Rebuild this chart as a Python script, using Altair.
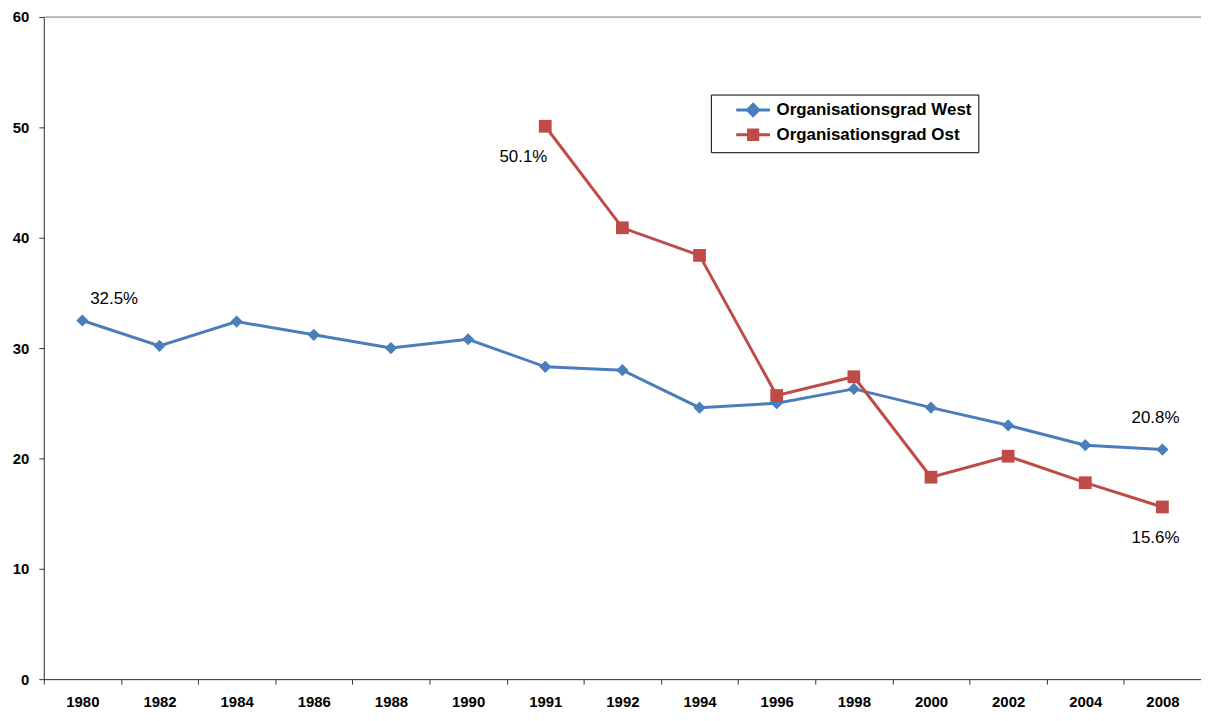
import altair as alt
import pandas as pd

years = ["1980", "1982", "1984", "1986", "1988", "1990", "1991", "1992",
         "1994", "1996", "1998", "2000", "2002", "2004", "2008"]
west = [32.5, 30.2, 32.4, 31.2, 30.0, 30.8, 28.3, 28.0,
        24.6, 25.0, 26.3, 24.6, 23.0, 21.2, 20.8]
ost_years = ["1991", "1992", "1994", "1996", "1998", "2000", "2002", "2004", "2008"]
ost = [50.1, 40.9, 38.4, 25.7, 27.4, 18.3, 20.2, 17.8, 15.6]

S_WEST = "Organisationsgrad West"
S_OST = "Organisationsgrad Ost"
series_names = [S_WEST, S_OST]
colors = ["#4A7EBB", "#BE4B48"]

# annotated points: (series, year, text)
ann_series = [S_WEST, S_OST, S_WEST, S_OST]
ann_years = ["1980", "1991", "2008", "2008"]
ann_text = ["32.5%", "50.1%", "20.8%", "15.6%"]

rows = [{"year": y, "value": v, "series": S_WEST} for y, v in zip(years, west)]
rows += [{"year": y, "value": v, "series": S_OST} for y, v in zip(ost_years, ost)]
df = pd.DataFrame(rows)

lookup = {(r["series"], r["year"]): r["value"] for r in rows}
ann = pd.DataFrame({
    "series": ann_series, "year": ann_years, "text": ann_text,
    "value": [lookup[(s, y)] for s, y in zip(ann_series, ann_years)],
})

FONT = "Liberation Sans"

x = alt.X("year:O", sort=years,
          scale=alt.Scale(type="band", domain=years, paddingInner=0, paddingOuter=0),
          axis=alt.Axis(title=None, labelAngle=0, tickBand="extent", tickSize=5,
                        labelPadding=11, labelFont=FONT, labelFontSize=15,
                        labelFontWeight="bold", labelColor="black",
                        domainColor="#333333", tickColor="#333333", grid=False))
y = alt.Y("value:Q",
          scale=alt.Scale(domain=[0, 60], nice=False, zero=True),
          axis=alt.Axis(title=None, values=[0, 10, 20, 30, 40, 50, 60], tickSize=5,
                        labelPadding=10, labelFont=FONT, labelFontSize=15,
                        labelFontWeight="bold", labelColor="black",
                        domainColor="#333333", tickColor="#333333", grid=False))

color_scale = alt.Scale(domain=series_names, range=colors)

# legend symbols: line segment with marker (unit = 8px, drawn right of the symbol box)
west_path = "M1.25,0L5.5,0M3.375,-0.7L4.075,0L3.375,0.7L2.675,0Z"
ost_path = "M1.25,0L5.5,0M2.8,-0.6L3.95,-0.6L3.95,0.6L2.8,0.6Z"

legend = alt.Legend(
    title=None, orient="none", legendX=671, legendY=78,
    direction="vertical",
    strokeColor="black", fillColor="white", padding=6,
    labelFont=FONT, labelFontSize=17, labelFontWeight="bold", labelColor="black",
    labelOffset=41, labelLimit=400, rowPadding=1, symbolSize=256, symbolStrokeWidth=3,
    symbolOpacity=1,
)

layers = []
for name, col, shp, sz in [(S_WEST, colors[0], "diamond", 150), (S_OST, colors[1], "square", 165)]:
    base = alt.Chart(df).transform_filter(alt.datum.series == name)
    layers.append(base.mark_line(strokeWidth=3, color=col).encode(x=x, y=y))
    layers.append(base.mark_point(filled=True, opacity=1, shape=shp, size=sz, color=col).encode(x=x, y=y))

legend_layer = alt.Chart(df).mark_point(
    filled=True, opacity=0, size=256, strokeWidth=3
).encode(
    x=x, y=y,
    color=alt.Color("series:N", scale=color_scale, legend=legend),
    stroke=alt.Stroke("series:N", scale=color_scale, legend=legend),
    shape=alt.Shape("series:N", scale=alt.Scale(domain=series_names, range=[west_path, ost_path]),
                    legend=legend),
)

top_line = alt.Chart(pd.DataFrame({"value": [60]})).mark_rule(color="#888888", strokeWidth=1).encode(
    y=alt.Y("value:Q")
)

offsets = {"1980": (32, -22), "1991": (-22, 31)}
text_layers = []
for i in range(len(ann)):
    s, yr = ann_series[i], ann_years[i]
    if yr == "2008":
        dx, dy = (-7, -32) if s == S_WEST else (-7, 31)
    else:
        dx, dy = offsets[yr]
    sub = ann.iloc[[i]]
    text_layers.append(
        alt.Chart(sub).mark_text(font=FONT, fontSize=17, color="black", dx=dx, dy=dy,
                                 align="center", baseline="middle").encode(
            x=x, y=y, text="text:N")
    )

chart = alt.layer(top_line, *layers, legend_layer, *text_layers).properties(
    width=1164, height=666,
    autosize=alt.AutoSizeParams(type="none"),
    padding={"left": 36, "top": 7, "right": 0, "bottom": 32},
).configure_view(stroke=None).configure(background="white")

chart.save("out.html", embed_options={"renderer": "svg", "actions": False})
